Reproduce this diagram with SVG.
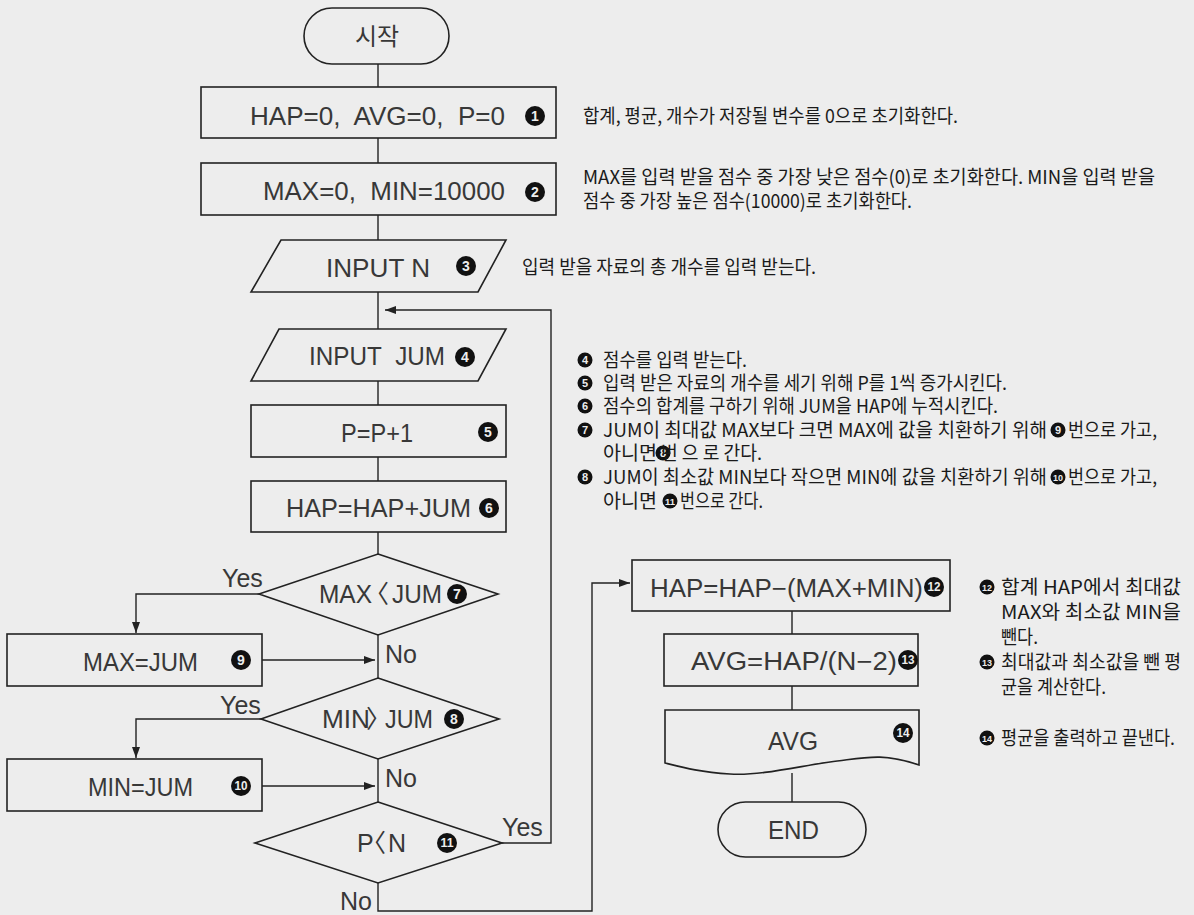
<svg xmlns="http://www.w3.org/2000/svg" width="1194" height="915" viewBox="0 0 1194 915">
<style>
.shape{fill:none;stroke:#222;stroke-width:1.6}
.ln{fill:none;stroke:#222;stroke-width:1.4}
.lbl{font-family:"Liberation Sans","Noto Sans CJK KR",sans-serif;font-size:25px;fill:#383838}
.kr{font-family:"Noto Sans CJK KR",sans-serif;fill:#383838}
.cjk{font-family:"Noto Sans CJK KR",sans-serif}
.d{font-family:"Noto Sans CJK KR",sans-serif;font-size:19px;fill:#1a1a1a}
.nc{fill:#111}
.nt{font-family:"Liberation Sans",sans-serif;font-weight:bold;font-size:14px;fill:#ededed;text-anchor:middle}
.nt2{font-family:"Liberation Sans",sans-serif;font-weight:bold;font-size:12px;fill:#ededed;text-anchor:middle}
.st{font-family:"Liberation Sans",sans-serif;font-weight:bold;font-size:11px;fill:#ededed;text-anchor:middle}
.st2{font-family:"Liberation Sans",sans-serif;font-weight:bold;font-size:9.5px;fill:#ededed;text-anchor:middle}
</style>
<defs>
<marker id="ah" markerUnits="userSpaceOnUse" markerWidth="11" markerHeight="8" refX="11" refY="4" orient="auto">
<path d="M0,0 L11,4 L0,8 z" fill="#222"/>
</marker>
</defs>
<rect x="0" y="0" width="1194" height="915" fill="#ededed"/>

<g id="connectors">
<path class="ln" d="M378,64 V87 M378,138 V163 M378,215 V240 M378,292 V329 M378,381 V405 M378,457 V481 M378,532 V554 M378,635 V678 M378,759 V802"/>
<path class="ln" d="M378,883 V911 H592 V583 H630" marker-end="url(#ah)"/>
<path class="ln" d="M502,843 H551 V310 H385" marker-end="url(#ah)"/>
<path class="ln" d="M259,594 H136 V633" marker-end="url(#ah)"/>
<path class="ln" d="M261,719 H136 V758" marker-end="url(#ah)"/>
<path class="ln" d="M262,660 H375" marker-end="url(#ah)"/>
<path class="ln" d="M262,786 H375" marker-end="url(#ah)"/>
<path class="ln" d="M792,611 V634 M792,686 V710 M792,773 V802"/>
<text class="lbl" x="222" y="587" font-size="24">Yes</text>
<text class="lbl" x="385" y="663" font-size="24">No</text>
<text class="lbl" x="220" y="714" font-size="24">Yes</text>
<text class="lbl" x="385" y="787" font-size="24">No</text>
<text class="lbl" x="502" y="836" font-size="24">Yes</text>
<text class="lbl" x="340" y="910" font-size="24">No</text>
</g>

<g id="start">
<rect class="shape" x="304" y="8" width="145" height="56" rx="28"/>
<text class="kr" x="377" y="45" font-size="24" text-anchor="middle">시작</text>
</g>

<g id="n1">
<rect class="shape" x="201" y="87" width="355" height="51"/>
<text class="lbl" x="250" y="125" textLength="255" lengthAdjust="spacingAndGlyphs">HAP=0,&#160; AVG=0,&#160; P=0</text>
<circle class="nc" cx="535" cy="116" r="10"/><text class="nt" x="535" y="121">1</text>
</g>

<g id="n2">
<rect class="shape" x="201" y="163" width="355" height="52"/>
<text class="lbl" x="263" y="200" textLength="242" lengthAdjust="spacingAndGlyphs">MAX=0,&#160; MIN=10000</text>
<circle class="nc" cx="535" cy="192" r="10"/><text class="nt" x="535" y="197">2</text>
</g>

<g id="n3">
<path class="shape" d="M281,240 H506 L478,292 H251 Z"/>
<text class="lbl" x="326" y="277" textLength="104" lengthAdjust="spacingAndGlyphs">INPUT N</text>
<circle class="nc" cx="466" cy="266" r="10"/><text class="nt" x="466" y="271">3</text>
</g>

<g id="n4">
<path class="shape" d="M279,329 H506 L478,381 H251 Z"/>
<text class="lbl" x="309" y="365" textLength="136" lengthAdjust="spacingAndGlyphs">INPUT&#160; JUM</text>
<circle class="nc" cx="465" cy="357" r="10"/><text class="nt" x="465" y="362">4</text>
</g>

<g id="n5">
<rect class="shape" x="251" y="405" width="255" height="52"/>
<text class="lbl" x="341" y="442" textLength="72" lengthAdjust="spacingAndGlyphs">P=P+1</text>
<circle class="nc" cx="488" cy="432" r="10"/><text class="nt" x="488" y="437">5</text>
</g>

<g id="n6">
<rect class="shape" x="251" y="481" width="255" height="51"/>
<text class="lbl" x="286" y="517" textLength="185" lengthAdjust="spacingAndGlyphs">HAP=HAP+JUM</text>
<circle class="nc" cx="489" cy="508" r="10"/><text class="nt" x="489" y="513">6</text>
</g>

<g id="n7">
<path class="shape" d="M378,554 L498,594 L378,635 L259,594 Z"/>
<text class="lbl" y="603"><tspan x="319" textLength="53" lengthAdjust="spacingAndGlyphs">MAX</tspan><tspan class="cjk" x="364">〈</tspan><tspan x="392" textLength="50" lengthAdjust="spacingAndGlyphs">JUM</tspan></text>
<circle class="nc" cx="457" cy="594" r="10"/><text class="nt" x="457" y="599">7</text>
</g>

<g id="n9">
<rect class="shape" x="7" y="634" width="255" height="52"/>
<text class="lbl" x="83" y="671" textLength="115" lengthAdjust="spacingAndGlyphs">MAX=JUM</text>
<circle class="nc" cx="241" cy="660" r="10"/><text class="nt" x="241" y="665">9</text>
</g>

<g id="n8">
<path class="shape" d="M378,678 L499,719 L378,759 L261,719 Z"/>
<text class="lbl" y="728"><tspan x="322" textLength="48" lengthAdjust="spacingAndGlyphs">MIN</tspan><tspan class="cjk" x="366">〉</tspan><tspan x="385" textLength="48" lengthAdjust="spacingAndGlyphs">JUM</tspan></text>
<circle class="nc" cx="454" cy="719" r="10"/><text class="nt" x="454" y="724">8</text>
</g>

<g id="n10">
<rect class="shape" x="7" y="759" width="255" height="52"/>
<text class="lbl" x="88" y="796" textLength="105" lengthAdjust="spacingAndGlyphs">MIN=JUM</text>
<circle class="nc" cx="241" cy="786" r="10"/><text class="nt2" x="241" y="790" textLength="13" lengthAdjust="spacingAndGlyphs">10</text>
</g>

<g id="n11">
<path class="shape" d="M378,802 L502,843 L378,883 L255,843 Z"/>
<text class="lbl" y="852"><tspan x="357">P</tspan><tspan class="cjk" x="361">〈</tspan><tspan x="388">N</tspan></text>
<circle class="nc" cx="447" cy="843" r="10"/><text class="nt2" x="447" y="847" textLength="13" lengthAdjust="spacingAndGlyphs">11</text>
</g>

<g id="n12">
<rect class="shape" x="632" y="560" width="318" height="51"/>
<text class="lbl" x="650" y="597" textLength="273" lengthAdjust="spacingAndGlyphs">HAP=HAP−(MAX+MIN)</text>
<circle class="nc" cx="934" cy="587" r="10"/><text class="nt2" x="934" y="591" textLength="13" lengthAdjust="spacingAndGlyphs">12</text>
</g>

<g id="n13">
<rect class="shape" x="664" y="634" width="254" height="52"/>
<text class="lbl" x="691" y="670" textLength="206" lengthAdjust="spacingAndGlyphs">AVG=HAP/(N−2)</text>
<circle class="nc" cx="908" cy="660" r="10"/><text class="nt2" x="908" y="664" textLength="13" lengthAdjust="spacingAndGlyphs">13</text>
</g>

<g id="n14">
<path class="shape" d="M665,763 V710 H919 V765 C880,752 865,758 830,762 C800,766 760,776 730,774 C700,772 685,768 665,763 Z"/>
<text class="lbl" x="768" y="750" textLength="50" lengthAdjust="spacingAndGlyphs">AVG</text>
<circle class="nc" cx="903" cy="733" r="10"/><text class="nt2" x="903" y="737" textLength="13" lengthAdjust="spacingAndGlyphs">14</text>
</g>

<g id="end">
<rect class="shape" x="718" y="802" width="148" height="55" rx="27.5"/>
<text class="lbl" x="768" y="839" textLength="51" lengthAdjust="spacingAndGlyphs">END</text>
</g>

<g id="notes">
<text class="d" x="583" y="123" textLength="375" lengthAdjust="spacingAndGlyphs">합계, 평균, 개수가 저장될 변수를 0으로 초기화한다.</text>
<text class="d" x="583" y="184" textLength="572" lengthAdjust="spacingAndGlyphs">MAX를 입력 받을 점수 중 가장 낮은 점수(0)로 초기화한다. MIN을 입력 받을</text>
<text class="d" x="583" y="208" textLength="329" lengthAdjust="spacingAndGlyphs">점수 중 가장 높은 점수(10000)로 초기화한다.</text>
<text class="d" x="522" y="274" textLength="294" lengthAdjust="spacingAndGlyphs">입력 받을 자료의 총 개수를 입력 받는다.</text>

<circle class="nc" cx="585" cy="360" r="7.5"/><text class="st" x="585" y="364">4</text>
<text class="d" x="603" y="367" textLength="144" lengthAdjust="spacingAndGlyphs">점수를 입력 받는다.</text>
<circle class="nc" cx="585" cy="383" r="7.5"/><text class="st" x="585" y="387">5</text>
<text class="d" x="603" y="390" textLength="404" lengthAdjust="spacingAndGlyphs">입력 받은 자료의 개수를 세기 위해 P를 1씩 증가시킨다.</text>
<circle class="nc" cx="585" cy="406" r="7.5"/><text class="st" x="585" y="410">6</text>
<text class="d" x="603" y="413" textLength="395" lengthAdjust="spacingAndGlyphs">점수의 합계를 구하기 위해 JUM을 HAP에 누적시킨다.</text>
<circle class="nc" cx="585" cy="430" r="7.5"/><text class="st" x="585" y="434">7</text>
<text class="d" x="603" y="437" textLength="444" lengthAdjust="spacingAndGlyphs">JUM이 최대값 MAX보다 크면 MAX에 값을 치환하기 위해</text>
<circle class="nc" cx="1058" cy="430" r="7.5"/><text class="st" x="1058" y="434">9</text>
<text class="d" x="1068" y="437" textLength="89" lengthAdjust="spacingAndGlyphs">번으로 가고,</text>
<text class="d" x="603" y="460" textLength="54" lengthAdjust="spacingAndGlyphs">아니면</text>
<circle class="nc" cx="663" cy="453" r="7.5"/><text class="st" x="663" y="457">8</text>
<text class="d" x="661" y="460" textLength="101" lengthAdjust="spacingAndGlyphs">번 으 로 간다.</text>
<circle class="nc" cx="585" cy="477" r="7.5"/><text class="st" x="585" y="481">8</text>
<text class="d" x="603" y="484" textLength="444" lengthAdjust="spacingAndGlyphs">JUM이 최소값 MIN보다 작으면 MIN에 값을 치환하기 위해</text>
<circle class="nc" cx="1058" cy="477" r="7.5"/><text class="st2" x="1058" y="480.5" textLength="10" lengthAdjust="spacingAndGlyphs">10</text>
<text class="d" x="1068" y="484" textLength="89" lengthAdjust="spacingAndGlyphs">번으로 가고,</text>
<text class="d" x="603" y="508" textLength="54" lengthAdjust="spacingAndGlyphs">아니면</text>
<circle class="nc" cx="670" cy="501" r="7.5"/><text class="st2" x="670" y="504.5" textLength="10" lengthAdjust="spacingAndGlyphs">11</text>
<text class="d" x="680" y="508" textLength="83" lengthAdjust="spacingAndGlyphs">번으로 간다.</text>

<circle class="nc" cx="987" cy="587" r="7.5"/><text class="st2" x="987" y="590.5" textLength="10" lengthAdjust="spacingAndGlyphs">12</text>
<text class="d" x="1001" y="594" textLength="180" lengthAdjust="spacingAndGlyphs">합계 HAP에서 최대값</text>
<text class="d" x="1001" y="619" textLength="180" lengthAdjust="spacingAndGlyphs">MAX와 최소값 MIN을</text>
<text class="d" x="1001" y="644" textLength="37" lengthAdjust="spacingAndGlyphs">뺀다.</text>
<circle class="nc" cx="987" cy="662" r="7.5"/><text class="st2" x="987" y="665.5" textLength="10" lengthAdjust="spacingAndGlyphs">13</text>
<text class="d" x="1001" y="669" textLength="180" lengthAdjust="spacingAndGlyphs">최대값과 최소값을 뺀 평</text>
<text class="d" x="1001" y="694" textLength="105" lengthAdjust="spacingAndGlyphs">균을 계산한다.</text>
<circle class="nc" cx="987" cy="738" r="7.5"/><text class="st2" x="987" y="741.5" textLength="10" lengthAdjust="spacingAndGlyphs">14</text>
<text class="d" x="1001" y="745" textLength="174" lengthAdjust="spacingAndGlyphs">평균을 출력하고 끝낸다.</text>
</g>
</svg>
